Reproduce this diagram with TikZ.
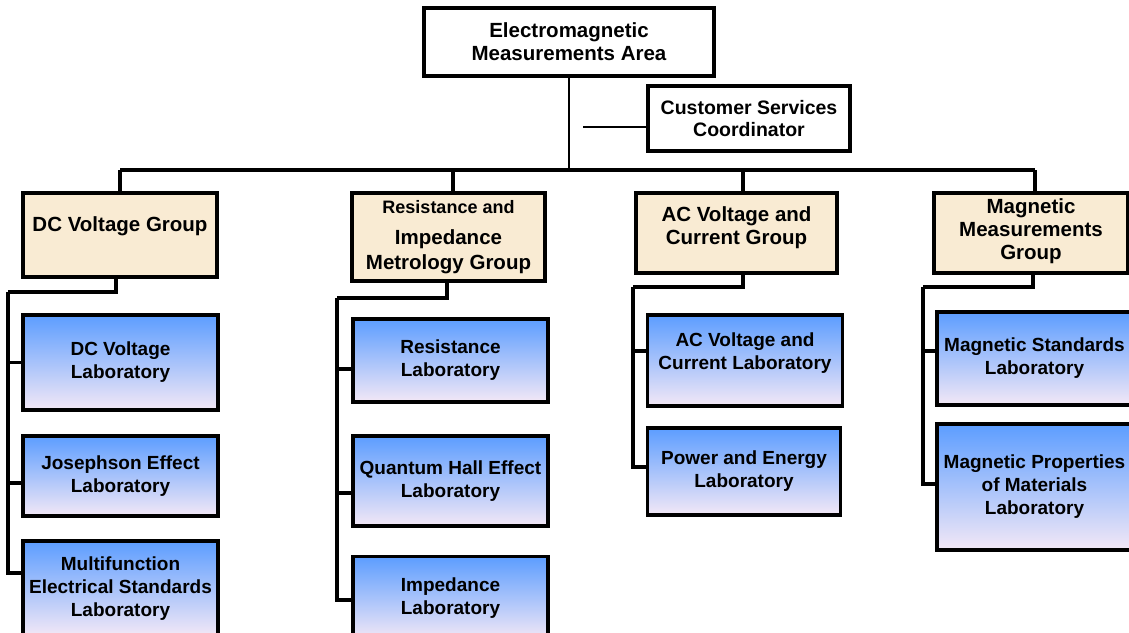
\documentclass[tikz,border=0pt]{standalone}
\usepackage{fontspec}
\setmainfont{Liberation Sans}
\usetikzlibrary{calc}
\definecolor{groupfill}{RGB}{249,235,211}
\definecolor{labtop}{RGB}{92,157,255}
\definecolor{labmid}{RGB}{146,196,255}
\definecolor{labbottom}{RGB}{243,232,246}
\tikzset{
	headbox/.style={draw, line width=3.6pt, fill=white, align=center, inner sep=0pt, font=\bfseries\fontsize{20.5}{23}\selectfont},
	groupbox/.style={headbox, fill=groupfill},
	labbox/.style={headbox, font=\bfseries\fontsize{19}{23}\selectfont, top color=labtop, middle color=labmid, bottom color=labbottom},
	link/.style={line width=3.6pt},
	thinlink/.style={line width=1.3pt}
}

\begin{document}
\begin{tikzpicture}[x=1pt, y=-1pt]
				\useasboundingbox (0,0) rectangle (1129,632);
				\node[headbox, minimum width=290pt, minimum height=68pt] (area) at (569,42) {Electromagnetic\\Measurements Area};
				\node[headbox, font=\bfseries\fontsize{19.5}{22}\selectfont, minimum width=202pt, minimum height=65pt] (csc) at (749,118.5) {Customer Services\\Coordinator};
				\node[groupbox, minimum width=194pt, minimum height=84pt] (dcg) at (120,235) {DC Voltage Group\\[-1pt]~};
				\node[groupbox, minimum width=193pt, minimum height=88pt] (rig) at (448.5,237) {{\fontsize{18}{20}\selectfont Resistance and}\\[8pt]Impedance\\[2pt]Metrology Group};
				\node[groupbox, minimum width=201pt, minimum height=80pt] (acg) at (736.5,233) {AC Voltage and\\Current Group\\[-8pt]~};
				\node[groupbox, minimum width=194pt, minimum height=80pt] (mag) at (1031,233) {~\\[-11pt]Magnetic\\Measurements\\Group};
				\node[labbox, minimum width=195pt, minimum height=95pt] (dcl) at (120.5,362.5) {DC Voltage\\Laboratory};
				\node[labbox, minimum width=195pt, minimum height=80pt] (jel) at (120.5,476) {Josephson Effect\\Laboratory};
				\node[labbox, minimum width=195pt, minimum height=95pt] (mel) at (120.5,588.5) {Multifunction\\Electrical Standards\\Laboratory};
				\node[labbox, minimum width=195pt, minimum height=83pt] (rl) at (450.5,360.5) {Resistance\\Laboratory};
				\node[labbox, minimum width=195pt, minimum height=90pt] (qhl) at (450.5,481) {Quantum Hall Effect\\Laboratory};
				\node[labbox, minimum width=195pt, minimum height=83pt] (il) at (450.5,598) {Impedance\\Laboratory};
				\node[labbox, minimum width=195pt, minimum height=91pt] (acl) at (745,360.5) {AC Voltage and\\Current Laboratory\\[-5pt]~};
				\node[labbox, minimum width=193pt, minimum height=87pt] (pel) at (744,471.5) {Power and Energy\\Laboratory};
				\node[labbox, minimum width=195pt, minimum height=93pt] (msl) at (1034.5,358.5) {Magnetic Standards\\Laboratory};
				\node[labbox, minimum width=195pt, minimum height=126pt] (mpl) at (1034.5,487) {Magnetic Properties\\of Materials\\Laboratory};
				\coordinate (bus) at (569,170);
				\coordinate (cscend) at (583,127);
				\coordinate (dcrail) at (8,292);
				\coordinate (rirail) at (337,298);
				\coordinate (acrail) at (633,287);
				\coordinate (mgrail) at (923,287);
				\draw[thinlink] (area.south) -- (bus);
				\draw[thinlink] (cscend) -- (cscend -| csc.west);
				\draw[link] (dcg.north |- bus) -- ([xshift=4pt]mag.north |- bus);
				\draw[link] (dcg.north) -- (dcg.north |- bus);
				\draw[link] ([xshift=4.5pt]rig.north) -- ([xshift=4.5pt]rig.north |- bus);
				\draw[link] ([xshift=6.5pt]acg.north) -- ([xshift=6.5pt]acg.north |- bus);
				\draw[link] ([xshift=4pt]mag.north) -- ([xshift=4pt]mag.north |- bus);
				\draw[link] ([xshift=-4pt]dcg.south) |- (dcrail);
				\draw[link] (dcl.west) -| (dcrail);
				\draw[link] ([yshift=-7pt]jel.west) -| (dcrail);
				\draw[link] ([yshift=15.5pt]mel.west) -| (dcrail);
				\draw[link] ([xshift=-1.5pt]rig.south) |- (rirail);
				\draw[link] ([yshift=-8.5pt]rl.west) -| (rirail);
				\draw[link] ([yshift=-12pt]qhl.west) -| (rirail);
				\draw[link] ([yshift=-2pt]il.west) -| (rirail);
				\draw[link] ([xshift=6.5pt]acg.south) |- (acrail);
				\draw[link] ([yshift=9.5pt]acl.west) -| (acrail);
				\draw[link] ([yshift=4.5pt]pel.west) -| (acrail);
				\draw[link] ([xshift=2pt]mag.south) |- (mgrail);
				\draw[link] ([yshift=7.5pt]msl.west) -| (mgrail);
				\draw[link] ([yshift=3pt]mpl.west) -| (mgrail);
\end{tikzpicture}
\end{document}
